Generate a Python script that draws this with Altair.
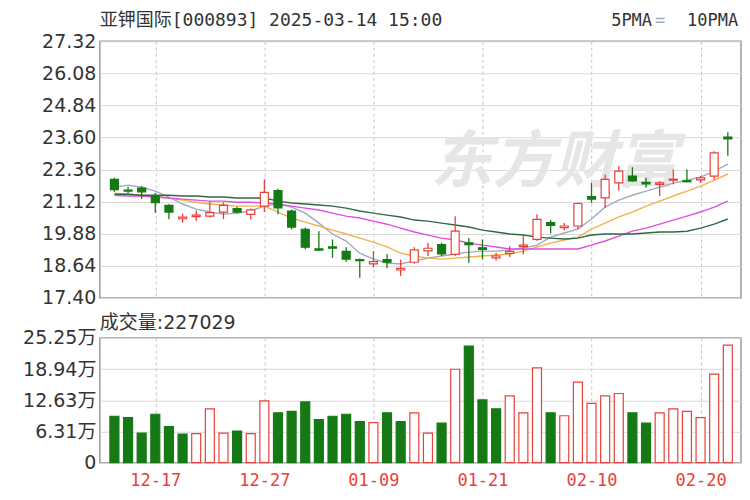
import altair as alt
import pandas as pd

dates = ["12-12", "12-13", "12-16", "12-17", "12-18", "12-19", "12-20", "12-23", "12-24", "12-25",
         "12-26", "12-27", "12-30", "12-31", "01-02", "01-03", "01-06", "01-07", "01-08", "01-09",
         "01-10", "01-13", "01-14", "01-15", "01-16", "01-17", "01-20", "01-21", "01-22", "01-23",
         "01-24", "01-27", "02-05", "02-06", "02-07", "02-10", "02-11", "02-12", "02-13", "02-14",
         "02-17", "02-18", "02-19", "02-20", "02-21", "02-24"]

opens = [21.98, 21.57, 21.65, 21.34, 20.98, 20.46, 20.54, 20.56, 20.72, 20.85,
         20.63, 20.95, 21.55, 20.76, 20.05, 19.30, 19.37, 19.20, 18.88, 18.72,
         18.88, 18.48, 18.78, 19.22, 19.46, 19.08, 19.53, 19.34, 18.95, 19.12,
         19.38, 19.66, 20.31, 20.12, 20.18, 21.32, 21.27, 21.85, 22.11, 21.87,
         21.79, 21.95, 21.93, 21.96, 22.11, 23.62]
highs = [22.05, 21.70, 21.72, 21.46, 21.02, 20.66, 20.78, 21.15, 21.10, 20.92,
         20.86, 21.98, 21.62, 20.82, 20.12, 19.98, 19.66, 19.36, 18.92, 19.21,
         19.10, 18.89, 19.36, 19.53, 19.53, 20.56, 19.72, 19.66, 19.15, 19.40,
         19.85, 20.63, 20.42, 20.30, 21.10, 21.85, 22.17, 22.49, 22.45, 22.05,
         21.91, 22.36, 22.36, 22.11, 23.07, 23.80]
lows = [21.50, 21.45, 21.22, 20.69, 20.44, 20.31, 20.37, 20.50, 20.45, 20.66,
        20.44, 20.72, 20.63, 20.05, 19.28, 19.22, 18.95, 18.80, 18.18, 18.57,
        18.55, 18.25, 18.72, 19.02, 19.02, 19.02, 18.76, 18.90, 18.85, 18.98,
        19.08, 19.60, 19.90, 20.02, 20.05, 21.08, 20.88, 21.55, 21.90, 21.66,
        21.34, 21.79, 21.87, 21.85, 21.98, 22.90]
closes = [21.59, 21.53, 21.50, 21.08, 20.72, 20.52, 20.60, 20.70, 20.98, 20.72,
          20.80, 21.48, 20.88, 20.14, 19.36, 19.25, 19.32, 18.90, 18.84, 18.80,
          18.78, 18.54, 19.26, 19.32, 19.10, 19.98, 19.46, 19.28, 19.02, 19.20,
          19.44, 20.44, 20.20, 20.18, 21.05, 21.22, 21.98, 22.30, 21.92, 21.81,
          21.85, 21.99, 21.89, 22.04, 23.01, 23.55]

ma5 = [21.68, 21.76, 21.68, 21.53, 21.30, 21.03, 20.83, 20.72, 20.64, 20.68,
       20.76, 20.95, 21.03, 20.91, 20.68, 20.29, 19.87, 19.60, 19.13, 18.90,
       18.75, 18.71, 18.83, 18.94, 19.02, 19.10, 19.17, 19.21, 19.21, 19.25,
       19.33, 19.44, 19.75, 19.91, 20.06, 20.45, 20.91, 21.18, 21.37, 21.53,
       21.68, 21.84, 21.95, 22.07, 22.30, 22.57]
ma10 = [21.45, 21.41, 21.37, 21.34, 21.26, 21.18, 21.10, 21.03, 20.99, 20.95,
        20.95, 20.95, 20.72, 20.49, 20.33, 20.18, 20.02, 19.87, 19.71, 19.56,
        19.37, 19.13, 19.02, 18.94, 18.90, 18.94, 18.98, 19.02, 19.06, 19.10,
        19.21, 19.37, 19.52, 19.64, 19.75, 20.06, 20.29, 20.53, 20.72, 20.95,
        21.14, 21.34, 21.53, 21.72, 21.95, 22.19]
ma20 = [21.37, 21.34, 21.34, 21.30, 21.26, 21.22, 21.18, 21.14, 21.14, 21.10,
        21.10, 21.07, 21.03, 20.95, 20.87, 20.80, 20.68, 20.56, 20.49, 20.37,
        20.25, 20.10, 19.95, 19.83, 19.71, 19.64, 19.52, 19.44, 19.37, 19.29,
        19.29, 19.29, 19.29, 19.29, 19.29, 19.44, 19.60, 19.79, 19.98, 20.10,
        20.25, 20.41, 20.56, 20.72, 20.91, 21.14]
ma30 = [21.41, 21.41, 21.37, 21.37, 21.37, 21.34, 21.34, 21.30, 21.30, 21.26,
        21.26, 21.26, 21.14, 21.07, 21.03, 20.99, 20.95, 20.87, 20.76, 20.68,
        20.60, 20.53, 20.41, 20.37, 20.29, 20.22, 20.14, 20.02, 19.95, 19.87,
        19.83, 19.75, 19.71, 19.68, 19.71, 19.83, 19.87, 19.87, 19.87, 19.91,
        19.95, 19.95, 19.98, 20.10, 20.25, 20.45]

# volume in 万手
volumes = [9.4, 9.1, 6.0, 9.8, 7.3, 5.8, 5.9, 10.9, 6.0, 6.4,
           5.9, 12.5, 10.1, 10.4, 12.3, 8.7, 9.4, 9.8, 8.3, 8.1,
           10.1, 8.3, 10.1, 6.0, 8.0, 18.9, 23.6, 12.7, 10.9, 13.5,
           10.1, 19.2, 10.1, 9.5, 16.3, 12.0, 13.5, 14.0, 10.1, 8.0,
           10.1, 10.9, 10.4, 9.1, 17.9, 23.8]
vol_dir = ["d", "d", "d", "d", "d", "d", "u", "u", "u", "d",
           "u", "u", "d", "d", "d", "d", "d", "d", "d", "u",
           "d", "d", "u", "u", "d", "u", "d", "d", "d", "u",
           "u", "u", "d", "u", "u", "u", "u", "u", "d", "d",
           "u", "u", "u", "u", "u", "u"]

price_ticks = [17.40, 18.64, 19.88, 21.12, 22.36, 23.60, 24.84, 26.08, 27.32]
vol_ticks = [0, 6.3125, 12.625, 18.9375, 25.25]
vol_tick_labels = ["0", "6.31万", "12.63万", "18.94万", "25.25万"]
date_tick_idx = [3, 11, 19, 27, 35, 43]

title_text = "亚钾国际[000893] 2025-03-14 15:00"
volume_text = "成交量:227029"
ma_names = ["5PMA", "10PMA", "20PMA", "30PMA"]
ma_colors = ["#9fabbb", "#f0b24e", "#e04fe0", "#2f6a45"]

RED = "#e8413c"
GREEN = "#157a15"
GRID = "#d9d9d9"
FONT = "DejaVu Sans"
MONO = "DejaVu Sans Mono, Noto Sans CJK SC"

n = len(dates)
df = pd.DataFrame({
    "i": list(range(n)), "date": dates, "open": opens, "high": highs,
    "low": lows, "close": closes, "vol": volumes, "vdir": vol_dir,
})
df["dir"] = ["u" if c >= o else "d" for o, c in zip(opens, closes)]

ma_df = pd.concat([
    pd.DataFrame({"i": list(range(n)), "v": vals, "s": name})
    for name, vals in zip(ma_names, [ma5, ma10, ma20, ma30])
])

W = 642
x_scale = alt.Scale(domain=[-0.7, 45.6], nice=False, zero=False)
price_scale = alt.Scale(domain=[17.40, 27.32], nice=False, zero=False)
vol_scale = alt.Scale(domain=[0, 25.25], nice=False, zero=True)

x_top_axis = alt.Axis(values=date_tick_idx, labels=False, ticks=False, domain=False,
                      grid=True, gridDash=[3, 3], gridColor="#c4c4c4", title=None)
date_list_expr = "[" + ",".join("'" + d + "'" for d in dates) + "]"
x_bot_axis = alt.Axis(values=date_tick_idx, ticks=False, domain=False, grid=True,
                      gridDash=[3, 3], gridColor="#c4c4c4", title=None,
                      labelExpr=date_list_expr + "[datum.value]",
                      labelColor=RED, labelFont=MONO, labelFontSize=17, labelPadding=10)

price_axis = alt.Axis(values=price_ticks, format=".2f", ticks=False, domain=False,
                      grid=True, gridColor=GRID, title=None, labelFont=FONT,
                      labelFontSize=19, labelColor="#333333", labelPadding=4)
vol_label_expr = ("[" + ",".join("'" + t + "'" for t in vol_tick_labels) + "]"
                  + "[indexof([" + ",".join(str(v) for v in vol_ticks) + "], datum.value)]")
vol_axis = alt.Axis(values=vol_ticks, labelExpr=vol_label_expr, ticks=False, domain=False,
                    grid=True, gridColor=GRID, title=None, labelFont="DejaVu Sans, Noto Sans CJK SC",
                    labelFontSize=19, labelColor="#333333", labelPadding=4)

base = alt.Chart(df)
X_top = alt.X("i:Q", scale=x_scale, axis=x_top_axis)

watermark = alt.Chart(pd.DataFrame({"t": ["东方财富"]})).mark_text(
    font="Noto Sans CJK SC", fontSize=62, fontWeight="bold", fontStyle="italic",
    color="#e6e6e6", align="center", baseline="middle"
).encode(x=alt.value(455), y=alt.value(122), text="t:N")

lines = alt.Chart(ma_df).mark_line(strokeWidth=1.4).encode(
    x=X_top,
    y=alt.Y("v:Q", scale=price_scale, axis=price_axis),
    color=alt.Color("s:N", scale=alt.Scale(domain=ma_names, range=ma_colors), legend=None),
)

wicks = base.mark_rule(strokeWidth=1.3).encode(
    x=X_top,
    y=alt.Y("low:Q", scale=price_scale, axis=price_axis),
    y2="high:Q",
    color=alt.Color("dir:N", scale=alt.Scale(domain=["u", "d"], range=[RED, GREEN]), legend=None),
)

bodies = base.mark_bar(size=8, strokeWidth=1.2).encode(
    x=X_top,
    y=alt.Y("open:Q", scale=price_scale, axis=price_axis),
    y2="close:Q",
    fill=alt.Fill("dir:N", scale=alt.Scale(domain=["u", "d"], range=["#ffffff", GREEN]), legend=None),
    stroke=alt.Stroke("dir:N", scale=alt.Scale(domain=["u", "d"], range=[RED, GREEN]), legend=None),
)

title = alt.Chart(pd.DataFrame({"t": [title_text]})).mark_text(
    font=MONO, fontSize=18, color="#333333", align="left", baseline="middle"
).encode(x=alt.value(0), y=alt.value(-20), text="t:N")

legend_txt = alt.Chart(pd.DataFrame({
    "t": ["5PMA", "=", "10PMA"], "px": [512, 556, 588], "c": ["#333333", "#9fabbb", "#333333"]
})).mark_text(font=MONO, fontSize=17, align="left", baseline="middle").encode(
    x=alt.X("px:Q", scale=None), y=alt.value(-20), text="t:N",
    color=alt.Color("c:N", scale=None),
)

top = alt.layer(watermark, lines, wicks, bodies, title, legend_txt).resolve_scale(
    color="independent"
).properties(width=W, height=257)

X_bot = alt.X("i:Q", scale=x_scale, axis=x_bot_axis)
vol_bars = base.mark_bar(size=9, strokeWidth=1.2).encode(
    x=X_bot,
    y=alt.Y("vol:Q", scale=vol_scale, axis=vol_axis),
    fill=alt.Fill("vdir:N", scale=alt.Scale(domain=["u", "d"], range=["#ffffff", GREEN]), legend=None),
    stroke=alt.Stroke("vdir:N", scale=alt.Scale(domain=["u", "d"], range=[RED, GREEN]), legend=None),
)
vol_title = alt.Chart(pd.DataFrame({"t": [volume_text]})).mark_text(
    font="DejaVu Sans, Noto Sans CJK SC", fontSize=19, color="#333333", align="left", baseline="middle"
).encode(x=alt.value(0), y=alt.value(-15), text="t:N")

bottom = alt.layer(vol_bars, vol_title).properties(width=W, height=125)

chart = alt.vconcat(top, bottom, spacing=40, bounds="flush").properties(
    padding={"left": 13, "top": 3, "right": 0, "bottom": 0}
).configure_view(stroke="#9a9a9a", strokeWidth=1.5)

chart.save("out.html", embed_options={"renderer": "svg", "actions": False})
